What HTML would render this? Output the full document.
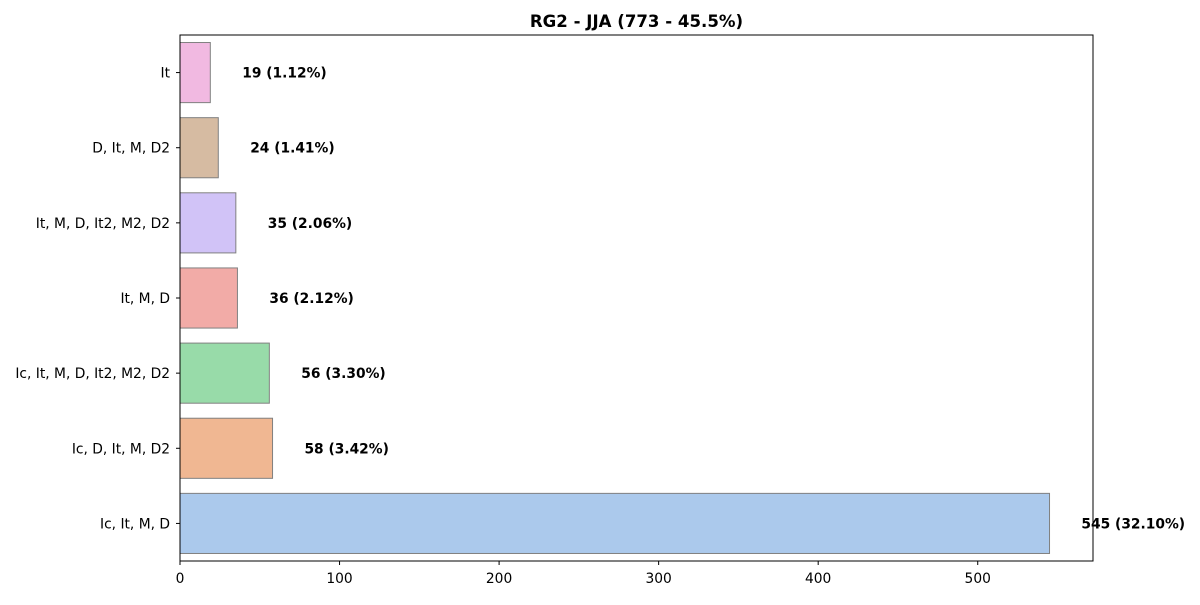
<!DOCTYPE html>
<html><head><meta charset="utf-8"><style>
body{margin:0;background:#fff;font-family:"Liberation Sans","DejaVu Sans",sans-serif}
svg text{font-family:"DejaVu Sans","Liberation Sans",sans-serif}
</style></head><body>
<svg id="c" width="1200" height="600" xmlns="http://www.w3.org/2000/svg"></svg>
<script>
const categories=["Ic, It, M, D","Ic, D, It, M, D2","Ic, It, M, D, It2, M2, D2","It, M, D","It, M, D, It2, M2, D2","D, It, M, D2","It"];
const values=[545,58,56,36,35,24,19];
const percents=["32.10%","3.42%","3.30%","2.12%","2.06%","1.41%","1.12%"];
const colors=["#abc9ec","#f0b792","#98dba9","#f2aba7","#d1c3f7","#d6bba2","#f1b9e1"];
const xTicks=[0,100,200,300,400,500];
const L=180,R=1093,T=35,B=561;
const xmax=Math.max(...values)*1.05;
const x=v=>L+v/xmax*(R-L);
const n=categories.length, slot=(B-T)/n;
const yc=i=>B-(i+0.5)*slot;
const svg=document.getElementById('c');
const NS="http://www.w3.org/2000/svg";
function mk(t,a,txt){const e=document.createElementNS(NS,t);for(const k in a)e.setAttribute(k,a[k]);if(txt!=null)e.textContent=txt;svg.appendChild(e);return e;}
let e=mk('text',{x:(L+R)/2,y:27,'text-anchor':'middle','font-size':16.6,'font-weight':'bold'},'RG2 - JJA (773 - 45.5%)');


for(let i=0;i<n;i++){
  const h=slot*0.8;
  e=mk('rect',{x:x(0),y:yc(i)-h/2,width:x(values[i])-x(0),height:h,fill:colors[i],stroke:'#808080','stroke-width':1});
  
  
  e=mk('text',{x:x(values[i]+20),y:yc(i)+5,'font-size':13.8,'font-weight':'bold'},values[i]+' ('+percents[i]+')');
  
  
  e=mk('line',{x1:L-4,x2:L,y1:yc(i),y2:yc(i),stroke:'#000'});
  
  
  e=mk('text',{x:L-10,y:yc(i)+5,'font-size':13.8,'text-anchor':'end'},categories[i]);
  
  
}
xTicks.forEach(t=>{
  e=mk('line',{x1:x(t),x2:x(t),y1:B,y2:B+4,stroke:'#000'});
  
  
  e=mk('text',{x:x(t),y:B+22,'font-size':13.8,'text-anchor':'middle'},String(t));
  
  
});
e=mk('rect',{x:L,y:T,width:R-L,height:B-T,fill:'none',stroke:'#000','stroke-width':1});


</script>
</body></html>
